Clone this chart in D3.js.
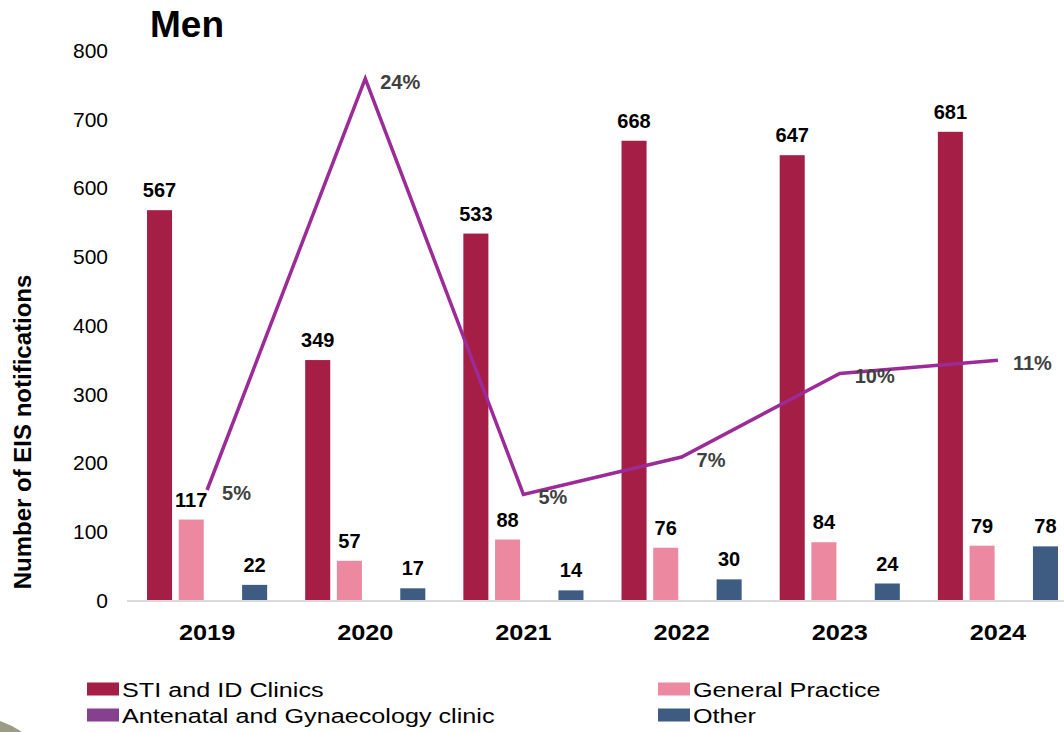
<!DOCTYPE html>
<html>
<head>
<meta charset="utf-8">
<script src="https://cdn.jsdelivr.net/npm/d3@7"></script>
<style>
  html, body { margin: 0; padding: 0; background: #fff; }
  svg { display: block; }
  text { font-family: "Liberation Sans", Arial, sans-serif; }
</style>
</head>
<body>
<svg id="chart" width="1064" height="732"></svg>
<script>
// ---------- data ----------
const years = ["2019", "2020", "2021", "2022", "2023", "2024"];
const seriesNames = ["STI and ID Clinics", "General Practice", "Antenatal and Gynaecology clinic", "Other"];
const stiClinics = [567, 349, 533, 668, 647, 681];
const generalPractice = [117, 57, 88, 76, 84, 79];
const antenatalClinic = [null, null, null, null, null, null];
const otherSetting = [22, 17, 14, 30, 24, 78];
const percentLine = [5.0, 23.7, 4.8, 6.5, 10.3, 10.9]; // % (hidden secondary axis)
const yTicks = [0, 100, 200, 300, 400, 500, 600, 700, 800];
const seriesColors = ["#A51E45", "#EC89A1", "#87408E", "#3E5B82"];
const lineColor = "#9C2B97";

const seriesValues = [stiClinics, generalPractice, antenatalClinic, otherSetting];

// ---------- layout ----------
const svg = d3.select("#chart");
const plotTop = 50, plotBottom = 600;

const x0 = d3.scaleBand().domain(years).range([128, 1077]).padding(0);
const x1 = d3.scaleBand().domain(seriesNames).range([0, x0.bandwidth()])
  .paddingInner(0.21).paddingOuter(0.6);
const y = d3.scaleLinear().domain([0, 800]).range([plotBottom, plotTop]);
const y2 = d3.scaleLinear().domain([0, 25]).range([plotBottom, plotTop]);

function stretchedText(g, x, yy, txt, sx, anchor) {
  return g.append("text")
    .attr("transform", `translate(${x},${yy}) scale(${sx},1)`)
    .attr("text-anchor", anchor || "start")
    .text(txt);
}

// title
svg.append("text")
  .attr("x", 150).attr("y", 37)
  .attr("font-size", 37).attr("font-weight", "bold")
  .attr("fill", "#000")
  .text("Men");

// y axis (labels only)
const yAxis = d3.axisLeft(y).tickValues(yTicks).tickSize(0).tickPadding(0);
const yg = svg.append("g").attr("transform", "translate(108,0)").call(yAxis);
yg.select(".domain").remove();
yg.selectAll("text")
  .attr("font-size", 21)
  .attr("font-family", "'Liberation Sans', Arial, sans-serif")
  .attr("fill", "#000")
  .attr("dy", "0.35em");

// y title
svg.append("text")
  .attr("transform", "translate(31,432) rotate(-90)")
  .attr("text-anchor", "middle")
  .attr("font-size", 24).attr("font-weight", "bold")
  .attr("fill", "#000")
  .text("Number of EIS notifications");

// bars
const groups = svg.append("g").selectAll("g")
  .data(years).join("g")
  .attr("transform", d => `translate(${x0(d)},0)`);

groups.each(function(yr, i) {
  const g = d3.select(this);
  seriesNames.forEach((s, k) => {
    const v = seriesValues[k][i];
    if (v == null) return;
    g.append("rect")
      .attr("x", x1(s))
      .attr("y", y(v))
      .attr("width", x1.bandwidth())
      .attr("height", y(0) - y(v))
      .attr("fill", seriesColors[k]);
  });
});

// baseline
svg.append("line")
  .attr("x1", 127).attr("x2", 1064)
  .attr("y1", plotBottom + 1).attr("y2", plotBottom + 1)
  .attr("stroke", "#D9D9D9").attr("stroke-width", 2);

// bar labels
groups.each(function(yr, i) {
  const g = d3.select(this);
  seriesNames.forEach((s, k) => {
    const v = seriesValues[k][i];
    if (v == null) return;
    g.append("text")
      .attr("x", x1(s) + x1.bandwidth() / 2)
      .attr("y", y(v) - 13)
      .attr("text-anchor", "middle")
      .attr("font-size", 20).attr("font-weight", "bold")
      .attr("fill", "#000")
      .text(v);
  });
});

// x labels
const xg = svg.append("g");
years.forEach(yr => {
  stretchedText(xg, x0(yr) + x0.bandwidth() / 2, 640, yr, 1.15, "middle")
    .attr("font-size", 22).attr("font-weight", "bold").attr("fill", "#000");
});

// percentage line
const cx = d => x0(d) + x0.bandwidth() / 2;
const line = d3.line().x((d, i) => cx(years[i])).y(d => y2(d));
svg.append("path")
  .datum(percentLine)
  .attr("d", line)
  .attr("fill", "none")
  .attr("stroke", lineColor)
  .attr("stroke-width", 3.5)
  .attr("stroke-linejoin", "miter");

svg.append("g").selectAll("text")
  .data(percentLine).join("text")
  .attr("x", (d, i) => cx(years[i]) + 15)
  .attr("y", d => y2(d) + 3)
  .attr("dy", "0.35em")
  .attr("font-size", 20).attr("font-weight", "bold")
  .attr("fill", "#404040")
  .text(d => Math.round(d) + "%");

// legend
const legendItems = [
  { name: seriesNames[0], color: seriesColors[0], x: 87, y: 689 },
  { name: seriesNames[1], color: seriesColors[1], x: 658, y: 689 },
  { name: seriesNames[2], color: seriesColors[2], x: 87, y: 715 },
  { name: seriesNames[3], color: seriesColors[3], x: 658, y: 715 }
];
const lg = svg.append("g");
legendItems.forEach(it => {
  lg.append("rect")
    .attr("x", it.x).attr("y", it.y - 6.5)
    .attr("width", 32).attr("height", 13)
    .attr("fill", it.color);
  stretchedText(lg, it.x + 35, it.y + 7.5, it.name, 1.2, "start")
    .attr("font-size", 21).attr("fill", "#000");
});

// slide decoration in the bottom-left corner
svg.append("path")
  .attr("d", "M0,721 L12,726 L22,732 L0,732 Z")
  .attr("fill", "#9C9C84");
</script>
</body>
</html>
